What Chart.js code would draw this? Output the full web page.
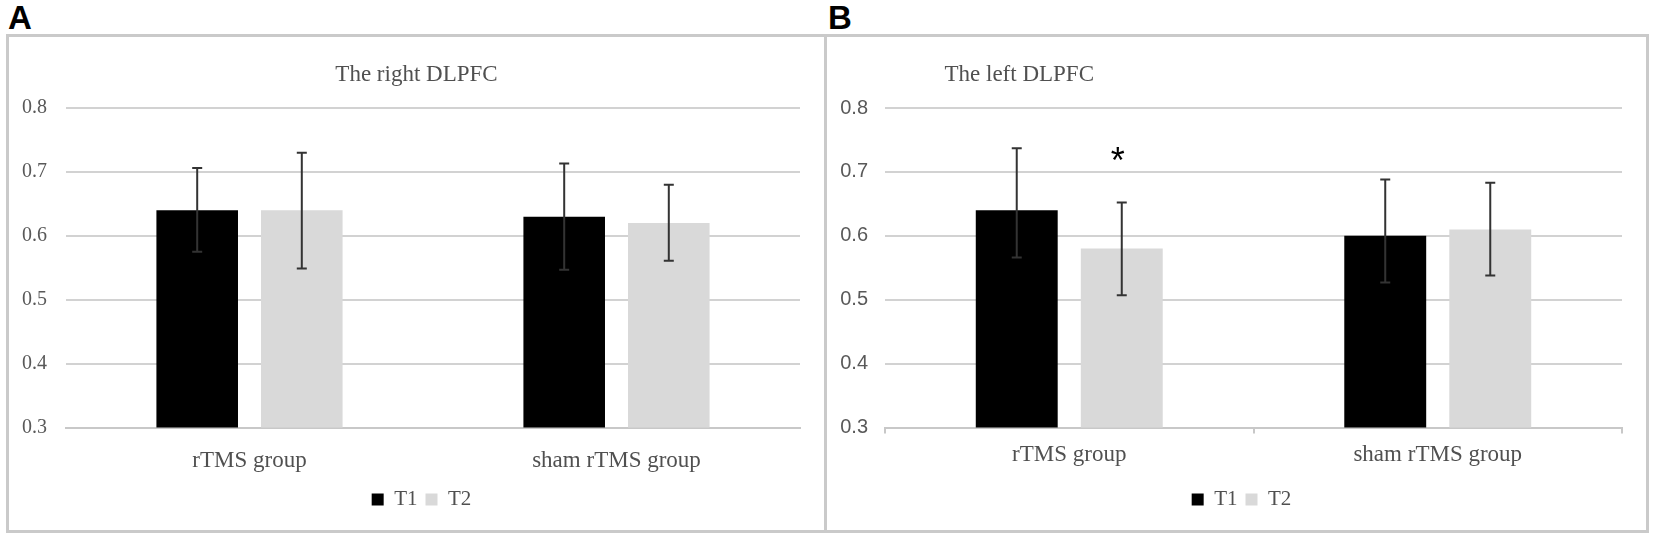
<!DOCTYPE html>
<html>
<head>
<meta charset="utf-8">
<script src="https://cdn.jsdelivr.net/npm/chart.js@4.4.1/dist/chart.umd.min.js"></script>
<style>
  body { margin: 0; background: #fff; width: 1654px; height: 539px; position: relative; overflow: hidden; }
  .panel { position: absolute; top: 34px; height: 493px; border: 3px solid #cacaca; }
  #panelA { left: 6px; width: 815px; }
  #panelB { left: 824px; width: 819px; }
  .tag { position: absolute; top: 1px; font: bold 33px "Liberation Sans", Arial, sans-serif; line-height: 1; color: #000; }
</style>
</head>
<body>
<div class="tag" style="left:8px">A</div>
<div class="tag" style="left:828px">B</div>
<div class="panel" id="panelA"><canvas id="chartA" width="815" height="493"></canvas></div>
<div class="panel" id="panelB"><canvas id="chartB" width="819" height="493"></canvas></div>
<script>
// data
const categories = ["rTMS group", "sham rTMS group"];
const seriesNames = ["T1", "T2"];
const seriesColors = ["#000000", "#d9d9d9"];

const rightT1 = [0.64, 0.63];
const rightT1Up = [0.066, 0.083];
const rightT1Down = [0.065, 0.083];
const rightT2 = [0.64, 0.62];
const rightT2Up = [0.090, 0.060];
const rightT2Down = [0.091, 0.059];

const leftT1 = [0.64, 0.60];
const leftT1Up = [0.097, 0.088];
const leftT1Down = [0.074, 0.073];
const leftT2 = [0.58, 0.61];
const leftT2Up = [0.072, 0.073];
const leftT2Down = [0.073, 0.072];
const leftT2Marks = ["*", ""];

const yMin = 0.3, yMax = 0.8, yStep = 0.1;

// error bars + significance marks
const errorBars = {
  id: 'errorBars',
  afterDatasetsDraw(chart) {
    const ctx = chart.ctx, y = chart.scales.y;
    chart.data.datasets.forEach((ds, i) => {
      chart.getDatasetMeta(i).data.forEach((bar, j) => {
        const top = y.getPixelForValue(ds.data[j] + ds.errUp[j]);
        const bot = y.getPixelForValue(ds.data[j] - ds.errDown[j]);
        ctx.save();
        ctx.strokeStyle = '#333';
        ctx.lineWidth = 2;
        ctx.beginPath();
        ctx.moveTo(bar.x, top); ctx.lineTo(bar.x, bot);
        ctx.moveTo(bar.x - 5, top); ctx.lineTo(bar.x + 5, top);
        ctx.moveTo(bar.x - 5, bot); ctx.lineTo(bar.x + 5, bot);
        ctx.stroke();
        if (ds.marks && ds.marks[j]) {
          ctx.fillStyle = '#000';
          ctx.font = '36px "Liberation Sans", Arial, sans-serif';
          ctx.textAlign = 'center';
          ctx.fillText(ds.marks[j], bar.x - 4, top - 40);
        }
        ctx.restore();
      });
    });
  }
};

const panelTitle = {
  id: 'panelTitle',
  afterDraw(chart, args, opts) {
    const ctx = chart.ctx;
    let x = chart.width / 2;
    if (opts.anchor === 'first') x = chart.scales.x.getPixelForValue(0) + opts.shift;
    ctx.save();
    ctx.font = '23px "Liberation Serif", "Times New Roman", serif';
    ctx.fillStyle = '#505050';
    ctx.textAlign = 'center';
    ctx.fillText(opts.text, x, opts.baseline);
    ctx.restore();
  }
};

// nudge the legend a little to the right, like the original
const legendShift = {
  id: 'legendShift',
  afterLayout(chart, args, opts) {
    chart.legend.left += opts.dx;
    chart.legend.right += opts.dx;
  }
};

function makeChart(id, t1, t1Up, t1Down, t2, t2Up, t2Down, marks, o) {
  new Chart(id, {
    type: "bar",
    data: {
      labels: categories,
      datasets: [{
        label: seriesNames[0],
        data: t1, errUp: t1Up, errDown: t1Down,
        backgroundColor: seriesColors[0],
        borderWidth: 0,
        categoryPercentage: 0.57,
        barPercentage: 0.78
      }, {
        label: seriesNames[1],
        data: t2, errUp: t2Up, errDown: t2Down, marks: marks,
        backgroundColor: seriesColors[1],
        borderWidth: 0,
        categoryPercentage: 0.57,
        barPercentage: 0.78
      }]
    },
    options: {
      responsive: false,
      animation: false,
      layout: { padding: { left: 0, right: 24, top: 71, bottom: 10 } },
      scales: {
        x: {
          grid: { display: o.xTicks, drawOnChartArea: false, tickLength: 6, color: '#c8c8c8', lineWidth: 2 },
          border: { display: true, color: '#c8c8c8', width: 2 },
          ticks: { padding: o.xTicks ? 7.5 : 13.5, color: '#505050', font: { family: 'Liberation Serif', size: 23 } },
          afterFit(s) { s.height = 53.4; }
        },
        y: {
          min: yMin, max: yMax,
          grid: { color: '#d2d2d2', lineWidth: 2, drawTicks: false },
          border: { display: false },
          ticks: {
            stepSize: yStep, padding: o.tickPad, color: '#595959',
            font: { family: o.tickFont, size: 20 },
            callback: v => v.toFixed(1)
          },
          afterFit(s) { s.width = o.yWidth; }
        }
      },
      plugins: {
        legend: {
          position: 'bottom',
          labels: { boxWidth: 12, boxHeight: 12, padding: 8, color: '#505050', font: { family: 'Liberation Serif', size: 21 } }
        },
        tooltip: { enabled: false },
        panelTitle: o.title,
        legendShift: { dx: 17 }
      }
    },
    plugins: [errorBars, panelTitle, legendShift]
  });
}

makeChart("chartA", rightT1, rightT1Up, rightT1Down, rightT2, rightT2Up, rightT2Down, null,
  { xTicks: false, tickFont: 'Liberation Serif', tickPad: 19, yWidth: 57,
    title: { text: 'The right DLPFC', anchor: 'center', baseline: 38 } });

makeChart("chartB", leftT1, leftT1Up, leftT1Down, leftT2, leftT2Up, leftT2Down, leftT2Marks,
  { xTicks: true, tickFont: 'Liberation Sans', tickPad: 17, yWidth: 58,
    title: { text: 'The left DLPFC', anchor: 'first', shift: -50, baseline: 38 } });
</script>
</body>
</html>
